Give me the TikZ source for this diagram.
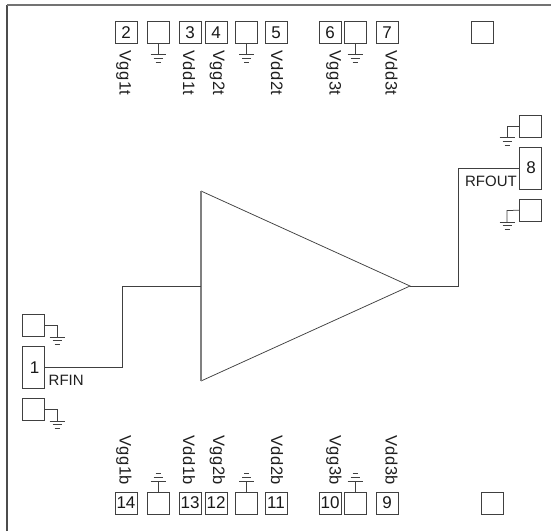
\documentclass[tikz,border=0pt]{standalone}
\usepackage{fontspec}
\setmainfont{Liberation Sans}
\newfontfamily\lblfont[LetterSpace=3]{Liberation Sans}
\tikzset{
  x=1pt,y=-1pt,
  ln/.style={draw=black!75,line width=0.75pt},
  pad/.style={ln,minimum width=22pt,minimum height=22pt,inner sep=0pt,outer sep=0pt,font=\fontsize{17}{17}\selectfont,text=black!90},
  tallpad/.style={pad,minimum height=42pt},
  lbl/.style={inner sep=0pt,font=\lblfont\fontsize{16.5}{16.5}\selectfont,text=black!88},
  hlbl/.style={inner sep=0pt,font=\fontsize{15}{15}\selectfont,text=black!88},
  vlbl/.style={lbl,rotate=-90,anchor=base west},
  gnd/.pic={\draw[ln] (-7.5,0)--(7.5,0) (-4.5,3.8)--(4.5,3.8) (-2.5,7.5)--(2.5,7.5);},
}
\begin{document}
\begin{tikzpicture}
\useasboundingbox (0,0) rectangle (551,531);
\fill[white] (0,0) rectangle (551,531);
\coordinate (bordertl) at (7,5);
\coordinate (borderb) at (7,531);
\coordinate (borderr) at (551,5);
\draw[draw=black!70,line width=1.1pt] (borderb) -- (bordertl);
\draw[draw=black!55,line width=1.1pt] (bordertl) -- (borderr);
% amplifier
\coordinate (tl) at (201,191);
\coordinate (bl) at (201,381);
\coordinate (tip) at (410,286);
\coordinate (inj) at (201,286);
\draw[ln] (bl) -- (tip) -- (tl);
\draw[draw=black!50,line width=1.1pt] (tl) -- (bl);
% top pads
\foreach \n/\t/\x/\b/\l in {p2/2/126/119.5/Vgg1t,p3/3/190/183/Vdd1t,p4/4/216/213/Vgg2t,p5/5/276/271/Vdd2t,p6/6/330/329.5/Vgg3t,p7/7/387/385.7/Vdd3t}{
  \node[pad] (\n) at (\x,32.5) {\t};
  \node[vlbl] (l\n) at (\b,50) {\l};
}
\foreach \n/\x in {g1/158,g2/246.5,g3/355}{
  \node[pad] (\n) at (\x,32.5) {};
  \coordinate (\n e) at (\x,54.5);
  \draw[ln] (\n) -- (\n e);
  \pic at (\n e) {gnd};
}
\node[pad] (nct) at (482,32) {};
% bottom pads
\foreach \n/\t/\x/\b/\l in {p14/14/126/119.5/Vgg1b,p13/13/190/183/Vdd1b,p12/12/216/213/Vgg2b,p11/11/276/271/Vdd2b,p10/10/330/329.5/Vgg3b,p9/9/387/385.7/Vdd3b}{
  \node[pad] (\n) at (\x,503) {\t};
  \node[vlbl] (l\n) at (\b,435) {\l};
}
\foreach \n/\x in {g4/158,g5/246.5,g6/355}{
  \node[pad] (\n) at (\x,503) {};
  \coordinate (\n e) at (\x,481);
  \draw[ln] (\n) -- (\n e);
  \pic[yscale=-1] at (\n e) {gnd};
}
\node[pad] (nrb) at (492,503) {};
% left side
\node[tallpad] (p1) at (33.5,367.5) {\hspace{2pt}1};
\node[pad] (gl1) at (33.5,325) {};
\node[pad] (gl2) at (33.5,409) {};
\node[hlbl,anchor=base west] (rfin) at (48.5,385) {RFIN};
\coordinate (a1) at (122.3,367.5);
\coordinate (a2) at (122.3,286);
\draw[ln] (p1.east |- a1) -- (a1) -- (a2) -- (inj);
\coordinate (gl1c) at (57,325);
\coordinate (gl1e) at (57,337);
\draw[ln] (gl1) -- (gl1c) -- (gl1e);
\pic at (gl1e) {gnd};
\coordinate (gl2c) at (57,409);
\coordinate (gl2e) at (57,421);
\draw[ln] (gl2) -- (gl2c) -- (gl2e);
\pic at (gl2e) {gnd};
% right side
\node[tallpad] (p8) at (530,168) {\hspace{2pt}8};
\node[pad] (gr1) at (530,126) {};
\node[pad] (gr2) at (530,210) {};
\node[hlbl,anchor=base east] (rfout) at (517,186) {RFOUT};
\coordinate (b1) at (458,286);
\coordinate (b2) at (458,168);
\draw[ln] (tip) -- (b1) -- (b2) -- (p8.west |- b2);
\coordinate (gr1c) at (507,126);
\coordinate (gr1e) at (507,137.5);
\draw[ln] (gr1) -- (gr1c) -- (gr1e);
\pic at (gr1e) {gnd};
\coordinate (gr2c) at (507,210.5);
\coordinate (gr2e) at (507,222);
\draw[ln] (gr2) -- (gr2c) -- (gr2e);
\pic at (gr2e) {gnd};
\end{tikzpicture}
\end{document}
